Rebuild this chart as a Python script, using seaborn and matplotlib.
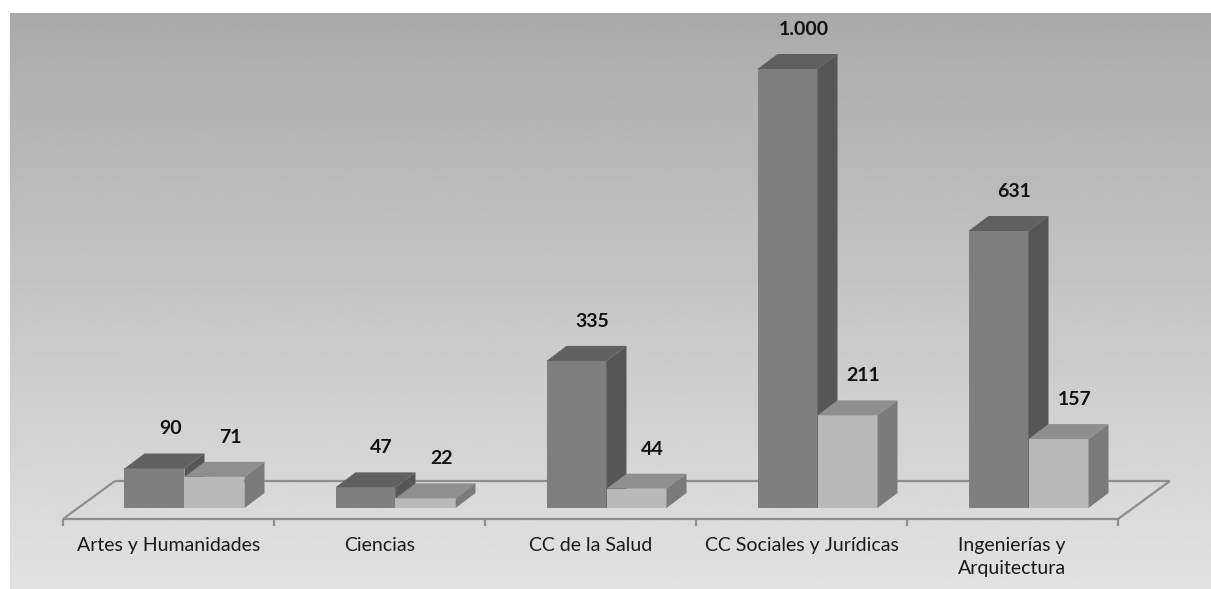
import numpy as np
import pandas as pd
import matplotlib
matplotlib.use("Agg")
import matplotlib.pyplot as plt
import seaborn as sns
from matplotlib.patches import Polygon

areas = ["Artes y Humanidades", "Ciencias", "CC de la Salud",
         "CC Sociales y Jurídicas", "Ingenierías y\nArquitectura"]
serie_1 = [90, 47, 335, 1000, 631]
serie_2 = [71, 22, 44, 211, 157]
series = ["Serie 1", "Serie 2"]

front_colors = ["#7f7f7f", "#b9b9b9"]
top_colors = ["#606060", "#8f8f8f"]
side_colors = ["#565656", "#7b7b7b"]

# pixel layout of the reference
W, H = 1211, 589
X0_PX, STEP_PX = 184.5, 211.0      # pair centre of first category, category step
BASE_PX, SCALE_PX = 508.0, 0.439   # baseline row, pixels per unit
DX_PX, DY_PX = 20, 15              # depth of the 3d bars


def xd(px):
    return (px - X0_PX) / STEP_PX


def yd(py):
    return (BASE_PX - py) / SCALE_PX


df = pd.DataFrame({
    "area": areas * 2,
    "valor": serie_1 + serie_2,
    "serie": [series[0]] * len(areas) + [series[1]] * len(areas),
})

sns.set_style("white")
plt.rcParams["font.family"] = ["Lato", "DejaVu Sans"]

fig = plt.figure(figsize=(W / 100, H / 100), dpi=100)
ax = fig.add_axes([0, 0, 1, 1])

sns.barplot(data=df, x="area", y="valor", hue="serie", order=areas,
            palette=front_colors, saturation=1, width=2 * 60 / STEP_PX,
            linewidth=0, legend=False, ax=ax)

ddx = DX_PX / STEP_PX
ddy = DY_PX / SCALE_PX

for k, cont in enumerate(ax.containers):
    z = 2 + k
    for bar in cont:
        bar.set_zorder(z)
        x0, w, h = bar.get_x(), bar.get_width(), bar.get_height()
        top = Polygon([(x0, h), (x0 + w, h), (x0 + w + ddx, h + ddy), (x0 + ddx, h + ddy)],
                      closed=True, facecolor=top_colors[k], edgecolor="none", zorder=z)
        side = Polygon([(x0 + w, 0), (x0 + w, h), (x0 + w + ddx, h + ddy), (x0 + w + ddx, ddy)],
                       closed=True, facecolor=side_colors[k], edgecolor="none", zorder=z)
        ax.add_patch(top)
        ax.add_patch(side)
        ax.annotate(f"{int(h):,}".replace(",", "."), (x0 + w / 2, h),
                    xytext=(16, DY_PX + 16), textcoords="offset pixels",
                    ha="center", va="bottom", fontsize=14, fontweight="bold",
                    color="#111111", zorder=6)

# floor of the 3d plot
n = len(areas)
fl, fr = xd(63), xd(63) + n
bl, br = xd(115), xd(115) + n
yf, yb = yd(519), yd(481)
floor_kw = dict(color="#8e8e8e", lw=1.6, zorder=1, solid_capstyle="butt")
ax.plot([fl, fr], [yf, yf], **floor_kw)
ax.plot([bl, br], [yb, yb], **floor_kw)
ax.plot([fl, bl], [yf, yb], **floor_kw)
ax.plot([fr, br], [yf, yb], **floor_kw)
for i in range(n + 1):
    ax.plot([fl + i, fl + i], [yf, yd(526)], **floor_kw)

# category labels
for i, name in enumerate(areas):
    ax.text(fl + i + 0.5, yd(537), name, ha="center", va="top",
            multialignment="left", fontsize=14, color="#1a1a1a",
            linespacing=1.45, zorder=6)

# background gradient
grad = np.linspace(170, 226, 300).reshape(-1, 1) / 255
ax.imshow(grad, cmap="gray", vmin=0, vmax=1, aspect="auto", zorder=0,
          extent=(xd(10), xd(W), yd(H), yd(13)))

ax.set_xlim(xd(0), xd(W))
ax.set_ylim(yd(H), yd(0))
ax.set_axis_off()
fig.patch.set_facecolor("white")

fig.savefig("out.png", dpi=100, facecolor="white")
